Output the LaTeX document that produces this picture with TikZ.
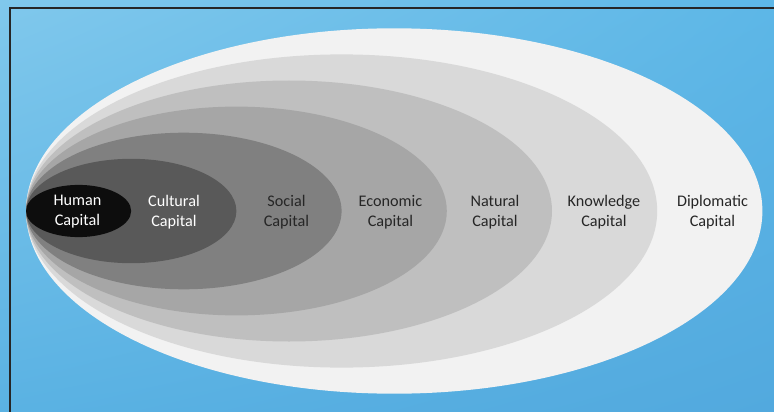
\documentclass[tikz,border=0pt]{standalone}
\usepackage{fontspec}
\setmainfont{Carlito}
\usetikzlibrary{shadings}

\definecolor{skyUL}{HTML}{80C8EC}
\definecolor{skyUR}{HTML}{5DB7E7}
\definecolor{skyLL}{HTML}{5AB2E3}
\definecolor{skyLR}{HTML}{52A9DE}
\definecolor{inkdark}{HTML}{262626}

\begin{document}
\begin{tikzpicture}[x=1pt, y=-1pt,
		ringtext/.style={align=center, font=\fontsize{16.2}{20}\selectfont, text=inkdark},
		ringwhite/.style={ringtext, text=white}]
			%%%%% START %%%%%
			
			\useasboundingbox (0, 0) rectangle (774, 412);
			\shade[upper left=skyUL, upper right=skyUR, lower left=skyLL, lower right=skyLR] (0, 0) rectangle (774, 412);
			
			% frame, runs off the right and bottom edges
			\draw[line width=2pt, color=black!85] (10, 420) -- (10, 8) -- (780, 8);
			
			% nested rings, all touching at the left
			\fill[black!5]  (394.2, 211) ellipse [x radius=368.2pt, y radius=182.7pt];
			\fill[black!15] (341.6, 211) ellipse [x radius=315.6pt, y radius=156.6pt];
			\fill[black!25] (289, 211)   ellipse [x radius=263pt,   y radius=130.5pt];
			\fill[black!35] (236.4, 211) ellipse [x radius=210.4pt, y radius=104.4pt];
			\fill[black!50] (183.8, 211) ellipse [x radius=157.8pt, y radius=78.3pt];
			\fill[black!65] (131.2, 211) ellipse [x radius=105.2pt, y radius=52.2pt];
			\fill[black!95] (78.6, 211)  ellipse [x radius=52.6pt,  y radius=26.1pt];
			
			\node[ringwhite] (human) at (77.5, 212) {Human\\Capital};
			\node[ringwhite] (cultural) at (174, 212) {Cultural\\Capital};
			\node[ringtext] (social) at (286.5, 212) {Social\\Capital};
			\node[ringtext] (economic) at (390.5, 212) {Economic\\Capital};
			\node[ringtext] (natural) at (495, 212) {Natural\\Capital};
			\node[ringtext] (knowledge) at (604, 212) {Knowledge\\Capital};
			\node[ringtext] (diplomatic) at (712.5, 212) {Diplomatic\\Capital};
			
			%%%%% END %%%%%
		\end{tikzpicture}
\end{document}
